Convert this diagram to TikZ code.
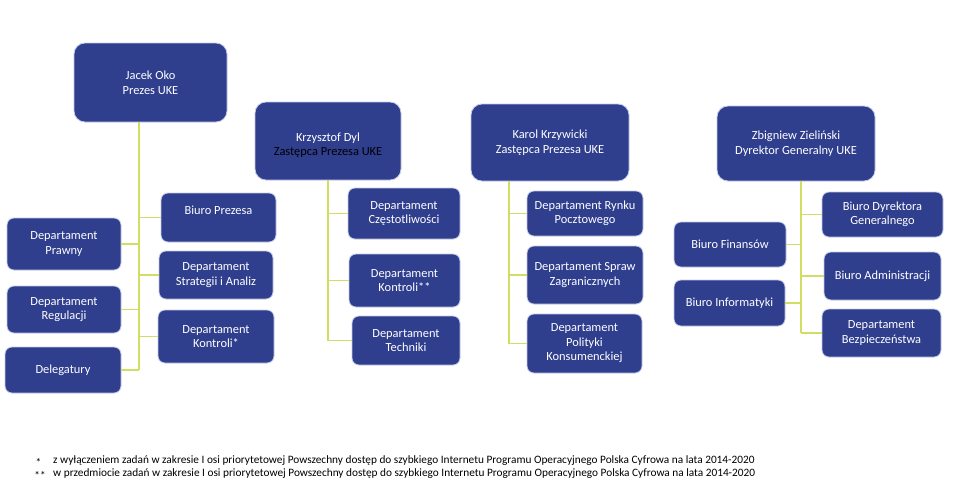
\documentclass[tikz,border=0pt]{standalone}
\usepackage{fontspec}
\setmainfont{Carlito}
\definecolor{boxblue}{RGB}{47,62,141}
\definecolor{boxedge}{RGB}{196,202,232}
\definecolor{conncol}{RGB}{208,222,100}
\tikzset{
  obox/.style={draw=boxedge, line width=0.8pt, fill=boxblue, text=white,
    rounded corners=7pt, inner sep=0pt, align=center,
    font=\fontsize{12.4}{14.5}\selectfont},
  bigbox/.style={obox, rounded corners=11pt},
  boxtext/.style={inner sep=0pt, align=center, text=white,
    font=\fontsize{12.4}{14.5}\selectfont},
  conn/.style={draw=conncol, line width=1.1pt},
  fnote/.style={anchor=west, inner sep=0pt, font=\fontsize{11.3}{13}\selectfont}
}
\newcommand{\bx}[7][obox]{\node[#1, minimum width=#5pt, minimum height=#6pt] (#2) at (#3,#4) {#7};}
\begin{document}
\begin{tikzpicture}[x=1pt,y=-1pt]
\useasboundingbox (0,0) rectangle (957,498);
\coordinate (jx) at (139,0);
\coordinate (dx) at (328,0);
\coordinate (kx) at (509,0);
\coordinate (zx) at (801,0);
% top boxes
\bx[bigbox]{jacek}{150.5}{82.5}{153}{79}{Jacek Oko\\Prezes UKE}
\bx[bigbox]{dyl}{328}{141}{146}{78}{}
\node[boxtext] (dylt) at ([yshift=-4pt]dyl.center) {Krzysztof Dyl\\\textcolor{black}{Zastępca Prezesa UKE}};
\bx[bigbox]{karol}{550}{142.5}{158}{77}{Karol Krzywicki\\Zastępca Prezesa UKE}
\bx[bigbox]{zbig}{796}{143.5}{158}{75}{Zbigniew Zieliński\\Dyrektor Generalny UKE}
% Jacek's units
\bx{biuroprez}{218.5}{217.5}{115}{49}{Biuro Prezesa\\\mbox{}}
\bx{prawny}{64}{244}{114}{52}{Departament\\Prawny}
\bx{strat}{216}{275}{114}{48}{Departament\\Strategii i Analiz}
\bx{regul}{64}{309.5}{114}{47}{Departament\\Regulacji}
\bx{kontr1}{216}{336.5}{116}{53}{Departament\\Kontroli*}
\bx{deleg}{63}{370}{116}{46}{Delegatury}
% Dyl's units
\bx{czest}{404}{213.5}{112}{51}{Departament\\Częstotliwości}
\bx{kontr2}{404.5}{280.5}{111}{53}{Departament\\Kontroli**}
\bx{tech}{406}{340.5}{108}{49}{Departament\\Techniki}
% Karol's units
\bx{rynek}{585}{213.5}{116}{45}{Departament Rynku\\Pocztowego}
\bx{spraw}{585}{275}{116}{58}{Departament Spraw\\Zagranicznych}
\bx{polit}{584.5}{343.5}{115}{59}{Departament\\Polityki\\Konsumenckiej}
% Zbigniew's units
\bx{bdg}{882.5}{214.5}{121}{45}{Biuro Dyrektora\\Generalnego}
\bx{fin}{730}{244.5}{112}{45}{Biuro Finansów}
\bx{adm}{882.5}{276}{117}{48}{Biuro Administracji}
\bx{inf}{729.5}{303}{111}{46}{Biuro Informatyki}
\bx{bezp}{881.5}{333}{119}{48}{Departament\\Bezpieczeństwa}
% connectors
\draw[conn] (jacek.south -| jx) -- (jx |- deleg.east);
\foreach \n in {biuroprez,strat,kontr1} \draw[conn] (jx |- \n.west) -- (\n.west);
\foreach \n in {prawny,regul,deleg} \draw[conn] (jx |- \n.east) -- (\n.east);
\draw[conn] (dyl.south -| dx) -- (dx |- tech.west);
\foreach \n in {czest,kontr2,tech} \draw[conn] (dx |- \n.west) -- (\n.west);
\draw[conn] (karol.south -| kx) -- (kx |- polit.west);
\foreach \n in {rynek,spraw,polit} \draw[conn] (kx |- \n.west) -- (\n.west);
\draw[conn] (zbig.south -| zx) -- (zx |- bezp.west);
\foreach \n in {bdg,adm,bezp} \draw[conn] (zx |- \n.west) -- (\n.west);
\foreach \n in {fin,inf} \draw[conn] (zx |- \n.east) -- (\n.east);
% footnotes
\node[fnote, anchor=center] (s1) at (38.5,462) {*};
\node[fnote] (f1) at (53,461) {z wyłączeniem zadań w zakresie I osi priorytetowej Powszechny dostęp do szybkiego Internetu Programu Operacyjnego Polska Cyfrowa na lata 2014-2020};
\node[fnote, anchor=center] (s2) at (40,475) {**};
\node[fnote] (f2) at (53,474) {w przedmiocie zadań w zakresie I osi priorytetowej Powszechny dostęp do szybkiego Internetu Programu Operacyjnego Polska Cyfrowa na lata 2014-2020};
\end{tikzpicture}
\end{document}
